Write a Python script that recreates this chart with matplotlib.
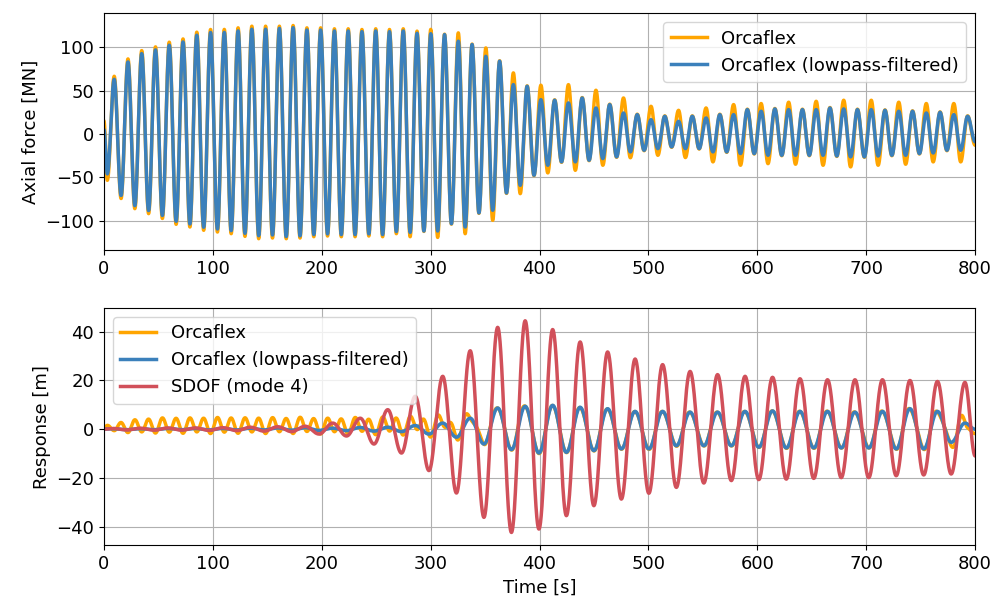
import numpy as np
import matplotlib.pyplot as plt

# --- time grid of the wave extrema [s] ---
wave_period = 12.64        # wave period seen in the axial force
first_trough = 3.08        # time of the first force trough
resp_period = 25.24        # period of the mode-4 response
first_resp_peak = 8.2

# --- axial force [MN], values at the peaks / troughs of every wave cycle ---
orca_force_peaks = [66.4, 86.4, 96.0, 100.3, 105.7, 109.4, 117.2, 120.3, 120.4, 122.2, 124.1, 124.1,
                    124.1, 124.9, 122.2, 122.2, 121.1, 121.1, 120.3, 121.1, 120.3, 121.1, 118.4, 120.4, 114.9,
                    116.4, 103.5, 99.1, 84.3, 70.3, 55.4, 56.1, 39.3, 56.8, 41.9, 50.3, 34.3, 41.4,
                    22.7, 31.8, 20.8, 27.2, 20.8, 29.9, 22.7, 33.8, 28.5, 35.0, 29.3, 36.5, 28.5,
                    37.6, 30.4, 38.8, 28.5, 38.8, 27.7, 36.5, 26.6, 35.0, 25.4, 35.0, 20.8]
orca_force_troughs = [-53.4, -74.4, -86.1, -91.8, -97.4, -104.1, -107.2, -111.0, -113.0, -114.9, -118.0, -120.7, -119.9,
                      -120.7, -119.9, -118.4, -117.6, -118.4, -118.4, -117.6, -118.4, -114.9, -118.4, -112.3, -119.2,
                      -103.9, -114.9, -91.5, -99.5, -68.5, -68.8, -48.1, -44.9, -32.7, -41.9, -30.8, -36.1, -26.9, -27.4,
                      -19.3, -24.6, -15.4, -27.2, -17.4, -32.2, -21.2, -36.1, -23.1, -34.2, -25.1, -34.9,
                      -25.1, -36.1, -25.9, -38.0, -26.9, -36.1, -25.1, -34.9, -23.1, -32.2, -19.3, -32.2]
lp_force_peaks = [62.9, 82.9, 92.5, 96.8, 102.2, 105.9, 113.7, 116.8, 116.9, 118.7, 120.6, 120.6,
                  121.6, 122.4, 119.7, 119.7, 118.6, 118.6, 117.8, 118.6, 117.8, 118.6, 115.9, 115.4, 114.4,
                  106.8, 103.0, 89.4, 83.8, 56.8, 54.9, 39.5, 38.8, 35.7, 41.4, 29.9, 33.8, 24.1,
                  22.2, 16.4, 20.3, 14.5, 20.3, 18.4, 22.2, 22.2, 28.0, 26.1, 28.8, 28.0, 28.0,
                  28.0, 29.9, 28.8, 28.0, 28.0, 27.2, 26.1, 26.1, 24.1, 24.9, 22.2, 20.3]
lp_force_troughs = [-46.0, -70.9, -82.6, -88.3, -93.9, -100.6, -103.7, -107.5, -109.5, -111.4, -114.5, -117.2, -116.4,
                    -118.2, -117.4, -115.9, -115.1, -115.9, -115.9, -115.1, -115.9, -112.4, -113.4, -111.8, -111.8,
                    -103.4, -107.2, -91.0, -88.0, -68.0, -59.2, -47.6, -36.1, -32.2, -32.2, -30.3, -28.4, -26.4, -20.7,
                    -18.8, -16.9, -14.9, -16.9, -16.9, -20.7, -20.7, -22.6, -22.6, -24.6, -24.6, -24.6,
                    -24.6, -24.6, -25.4, -26.4, -26.4, -25.4, -24.6, -24.6, -22.6, -21.9, -18.8, -18.8]
force_start = {'orca': 15.0, 'lp': 5.0}
force_end = {'orca': -13.0, 'lp': -9.0}

# --- response [m], alternating peak / trough of the mode-4 oscillation ---
sdof_resp = [0.3, -0.3, 0.4, -0.4, 0.5, -0.4, 0.5, -0.5, 0.6, -0.6, 0.8, -0.8, 1.0, -1.0,
             1.2, -2.0, 2.5, -2.8, 4.5, -6.1, 8.0, -9.8, 13.5, -17.0, 21.7, -26.2, 32.2, -36.2, 41.8, -42.4,
             44.5, -41.0, 40.9, -35.5, 35.8, -31.4, 31.7, -28.7, 28.8, -26.3, 26.5, -23.9, 23.7, -22.1,
             22.4, -21.1, 21.7, -20.7, 21.3, -20.5, 20.7, -20.2, 20.3, -19.9, 20.3, -19.9, 20.3, -19.1,
             20.0, -18.8, 19.6, -18.4, 19.2]
lp_resp = [0.2, -0.2, 0.2, -0.2, 0.3, -0.2, 0.3, -0.3, 0.3, -0.3, 0.4, -0.3, 0.5, -0.4,
           0.6, -0.5, 0.4, -0.6, 0.7, -0.8, 0.8, -1.0, 1.5, -2.0, 2.5, -3.3, 4.5, -6.1, 8.7, -8.4,
           9.4, -9.8, 9.8, -9.5, 9.0, -8.8, 8.4, -8.1, 7.3, -8.1, 7.3, -6.8, 7.0, -6.8,
           7.0, -6.8, 7.3, -7.4, 7.5, -7.7, 7.3, -7.7, 7.3, -7.7, 7.0, -7.7, 7.3, -8.1,
           8.4, -8.1, 7.3, -5.4, 2.5]
resp_start = {'sdof': 0.0, 'lp': 0.0}
resp_end = {'sdof': -11.0, 'lp': 0.0}

# wave-frequency part of the Orcaflex response (Orcaflex minus lowpass)
ripple_peaks = [1.5, 2.8, 3.8, 4.2, 4.5, 4.5, 4.5, 4.6, 4.7, 4.7, 4.5, 4.6, 4.5, 4.5, 4.6, 4.5, 4.4, 4.5, 4.5, 4.4,
                4.7, 5.0, 4.5, 5.0, 4.5, 4.0, 3.5, 1.8, 0.8, 0.5, 1.2,
                0.2, 0.4, 0.2, 0.6, 0.2, 0.5, 0.2, 0.4, 0.3, 0.5, 0.3, 0.6, 0.3, 0.7, 0.3, 0.6, 0.3, 0.5, 0.3,
                0.6, 0.3, 0.7, 0.4, 0.8, 0.5, 0.9, 0.5, 1.0, 0.8, 1.2, 0.8, 4.5]
ripple_troughs = [-0.8, -1.2, -1.3, -1.4, -1.5, -1.5, -1.4, -1.5, -1.5, -1.4, -1.5, -1.5, -1.5, -1.4, -1.5,
                  -1.5, -1.4, -1.5, -1.5, -1.5, -1.5, -1.5, -1.5, -1.4, -1.4, -1.4, -0.8, -0.5,
                  -0.2, -0.3, -0.2, -0.3, -0.2, -0.2, -0.3, -0.2, -0.3, -0.2, -0.2, -0.3, -0.2, -0.3, -0.2,
                  -0.2, -0.3, -0.2, -0.3, -0.2, -0.2, -0.3, -0.2, -0.3, -0.2, -0.2, -0.3, -0.2, -0.3, -0.4,
                  -0.5, -0.6, -0.8, -2.5, -1.5]
ripple_start, ripple_end = 0.5, -1.8

t_end = 800.0


# smooth half-cosine curve through a list of extrema
def through_extrema(t_ext, v_ext, t):
    t_ext = np.asarray(t_ext, dtype=float)
    v_ext = np.asarray(v_ext, dtype=float)
    i = np.clip(np.searchsorted(t_ext, t, side='right') - 1, 0, len(t_ext) - 2)
    s = (t - t_ext[i]) / (t_ext[i + 1] - t_ext[i])
    return v_ext[i] + (v_ext[i + 1] - v_ext[i]) * (1 - np.cos(np.pi * s)) / 2


def alternate(first, second):
    out = np.empty(len(first) + len(second))
    out[0::2] = first
    out[1::2] = second
    return out


n_cyc = len(orca_force_peaks)
trough_t = first_trough + wave_period * np.arange(n_cyc)
peak_t = trough_t + wave_period / 2
wave_t = np.concatenate([[0], alternate(trough_t, peak_t), [t_end]])

resp_t = np.concatenate([[0], first_resp_peak + resp_period / 2 * np.arange(len(sdof_resp)), [t_end]])

t = np.linspace(0, t_end, 8001)

orca_force = through_extrema(wave_t, np.concatenate([[force_start['orca']], alternate(orca_force_troughs, orca_force_peaks), [force_end['orca']]]), t)
lp_force = through_extrema(wave_t, np.concatenate([[force_start['lp']], alternate(lp_force_troughs, lp_force_peaks), [force_end['lp']]]), t)

sdof = through_extrema(resp_t, np.concatenate([[resp_start['sdof']], sdof_resp, [resp_end['sdof']]]), t)
lp = through_extrema(resp_t, np.concatenate([[resp_start['lp']], lp_resp, [resp_end['lp']]]), t)
ripple = through_extrema(wave_t, np.concatenate([[ripple_start], alternate(ripple_peaks, ripple_troughs), [ripple_end]]), t)
orca = lp + ripple

# --- plot ---
plt.rcParams['font.size'] = 13
c_orca = '#ffa500'
c_lp = '#3b80bb'
c_sdof = '#d1505a'
lw = 2.5

fig = plt.figure(figsize=(9.93, 6.03), dpi=100)
ax1 = fig.add_axes([0.1047, 0.585, 0.8773, 0.393])
ax2 = fig.add_axes([0.1047, 0.096, 0.8773, 0.393])

ax1.plot(t, orca_force, color=c_orca, lw=lw, label='Orcaflex')
ax1.plot(t, lp_force, color=c_lp, lw=lw, label='Orcaflex (lowpass-filtered)')
ax1.set_xlim(0, t_end)
ax1.set_ylim(-134, 139)
ax1.set_ylabel('Axial force [MN]')
ax1.grid(True)
ax1.legend(loc='upper right')

ax2.plot(t, orca, color=c_orca, lw=lw, label='Orcaflex')
ax2.plot(t, lp, color=c_lp, lw=lw, label='Orcaflex (lowpass-filtered)')
ax2.plot(t, sdof, color=c_sdof, lw=lw, label='SDOF (mode 4)')
ax2.set_xlim(0, t_end)
ax2.set_ylim(-47.6, 49.7)
ax2.set_ylabel('Response [m]')
ax2.set_xlabel('Time [s]')
ax2.grid(True)
ax2.legend(loc='upper left')

fig.savefig('out.png', dpi=100)
